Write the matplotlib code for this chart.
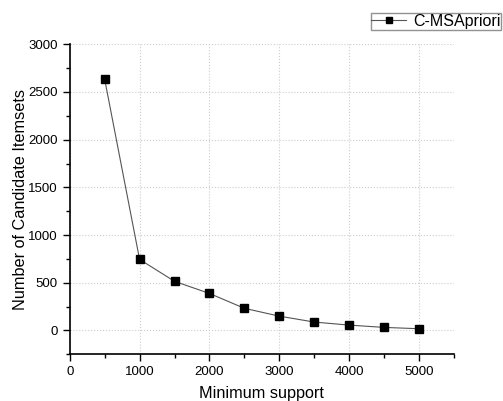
import matplotlib
matplotlib.use("Agg")
import matplotlib.pyplot as plt
from matplotlib.ticker import MultipleLocator

plt.rcParams['font.family'] = ['Liberation Sans', 'DejaVu Sans']

support = [500, 1000, 1500, 2000, 2500, 3000, 3500, 4000, 4500, 5000]
candidates = [2635, 745, 515, 388, 232, 150, 88, 56, 32, 18]
series_name = "C-MSApriori"

fig = plt.figure(figsize=(5.03, 4.01), dpi=100)
ax = fig.add_axes([69.7/503, 1 - 354.3/401, (454 - 69.7)/503, (354.3 - 44.3)/401])

ax.plot(support, candidates, color='#555555', lw=0.8, marker='s', ms=5.2,
        markerfacecolor='black', markeredgecolor='black', label=series_name)

ax.set_xlim(0, 5500)
ax.set_ylim(-250, 3000)
ax.xaxis.set_major_locator(MultipleLocator(1000))
ax.xaxis.set_minor_locator(MultipleLocator(500))
ax.yaxis.set_major_locator(MultipleLocator(500))
ax.yaxis.set_minor_locator(MultipleLocator(250))
ax.grid(True, which='major', linestyle=':', color='#cccccc', lw=0.8)
for s in ['top', 'right']:
    ax.spines[s].set_visible(False)
for s in ['left', 'bottom']:
    ax.spines[s].set_linewidth(1.2)
ax.tick_params(which='major', direction='out', length=5, width=1.0, labelsize=9.5)
ax.tick_params(which='minor', direction='out', length=3, width=1.0)
ax.set_xlabel("Minimum support", fontsize=11.7, labelpad=6)
ax.set_ylabel("Number of Candidate Itemsets", fontsize=11.7, labelpad=0.5)

fig.legend(loc='upper right', bbox_to_anchor=(501/503, 1 - 13/401), frameon=True,
           fancybox=False, edgecolor='#777777', fontsize=11.5, handlelength=2.2,
           borderpad=0.05, handletextpad=0.4, borderaxespad=0, markerscale=0.9)

fig.savefig("out.png", dpi=100)
